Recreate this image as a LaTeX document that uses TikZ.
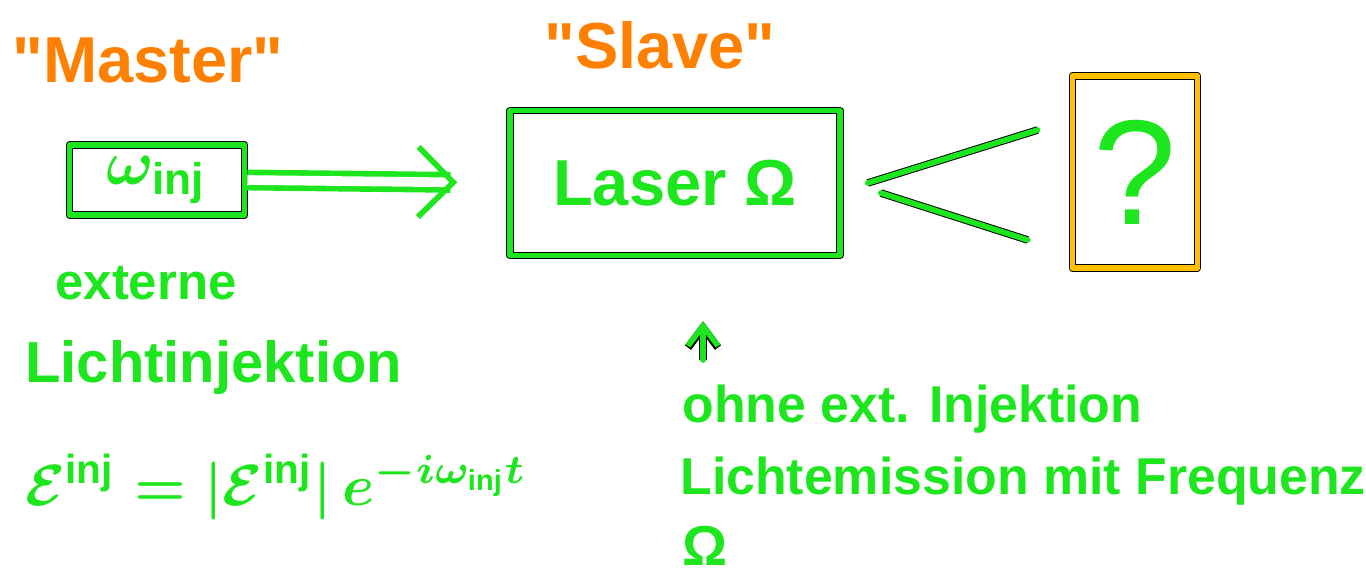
\documentclass[tikz,border=0pt]{standalone}
\usepackage{fontspec}
\setmainfont{Liberation Sans}
\newfontfamily\plainfont{Liberation Sans}
\usepackage{graphicx}
\usepackage{tikz}
\usetikzlibrary{arrows.meta, positioning, calc}
\definecolor{penGreen}{RGB}{30,230,30}
\definecolor{penOrange}{RGB}{255,128,0}
\definecolor{penYellow}{RGB}{255,192,0}

\begin{document}
\begin{tikzpicture}[x=0.02cm, y=-0.02cm]
    % Define styles
    \tikzstyle{stroke} = [draw=penGreen, line width=3.2pt, line cap=round, line join=round, preaction={draw=black, line width=4.3pt}]
    \tikzstyle{penbox} = [rectangle, stroke, inner sep=0pt, text=penGreen]
    \tikzstyle{title} = [text=penOrange, font=\plainfont\bfseries\fontsize{37}{44}\selectfont]
    \tikzstyle{note} = [text=penGreen, inner sep=0pt, anchor=base west]
    \tikzstyle{inject} = [draw=penGreen, line width=3.2pt, double=white, double distance=5.5pt, -{Straight Barb[length=7mm, width=14mm]}, shorten >=1cm]
    \tikzstyle{pointer} = [stroke, -{Straight Barb[length=4mm, width=6mm]}, shorten >=1.26cm]

    \useasboundingbox (0,0) rectangle (1366,577);

    % Titles
    \node[title] (master) at (148,60) {"Master"};
    \node[title] (slave) at (660,45) {"Slave"};

    % Boxes
    \node[penbox, minimum width=3.5cm, minimum height=1.4cm] (inj) at (157,180) {\scalebox{3.6}{\boldmath$\omega_{\mathrm{inj}}$}};
    \node[penbox, minimum width=6.6cm, minimum height=2.9cm, font=\bfseries\fontsize{37}{44}\selectfont] (laser) at (675,183) {Laser Ω};
    \node[penbox, draw=penYellow, minimum width=2.5cm, minimum height=3.85cm, font=\fontsize{85}{90}\selectfont] (unknown) at (1135,172) {?};

    % Texts
    \node[note, font=\bfseries\fontsize{29}{35}\selectfont] (externe) at (55,300) {externe};
    \node[note, font=\bfseries\fontsize{33}{40}\selectfont] (licht) at (25,383) {Lichtinjektion};
    \node[note] (field) at (25,505) {\scalebox{3.3}{\boldmath$\mathcal{E}^{\mathrm{inj}} = |\mathcal{E}^{\mathrm{inj}}|\,e^{-i\omega_{\mathrm{inj}}t}$}};
    \node[note, font=\bfseries\fontsize{29.5}{35}\selectfont] (noinj) at (682,422) {ohne ext. Injektion};
    \node[note, font=\bfseries\fontsize{29.5}{35}\selectfont] (emission) at (680,495) {Lichtemission mit Frequenz};
    \node[note, font=\bfseries\fontsize{32}{38}\selectfont] (omega) at (682,565) {Ω};

    % Connectors
    \draw[inject] (inj.east) -- (laser.west);
    \coordinate (coneTip1) at ($(laser.east)+(25,0)$);
    \coordinate (coneTip2) at ($(laser.east)+(38,10)$);
    \coordinate (coneEnd1) at ($(unknown.west)+(-32,-42)$);
    \coordinate (coneEnd2) at ($(unknown.west)+(-42,68)$);
    \draw[stroke] (coneEnd1) -- (coneTip1);
    \draw[stroke] (coneTip2) -- (coneEnd2);
    \coordinate (upStart) at (703,360);
    \draw[pointer] (upStart) -- (upStart |- laser.south);

\end{tikzpicture}
\end{document}
